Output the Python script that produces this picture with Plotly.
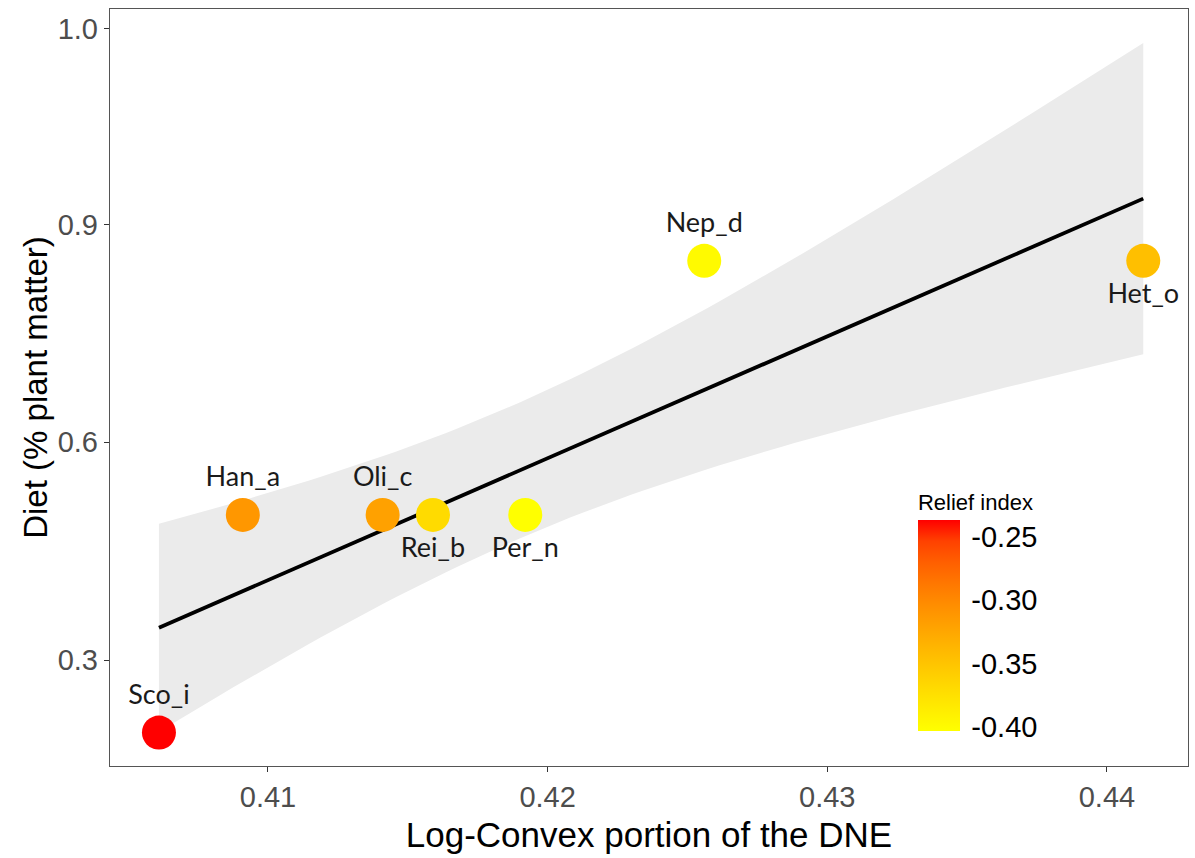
import numpy as np
import plotly.graph_objects as go

# Species data
species = ["Sco_i", "Han_a", "Oli_c", "Rei_b", "Per_n", "Nep_d", "Het_o"]
log_convex = [0.4061, 0.4091, 0.4141, 0.4159, 0.4192, 0.4256, 0.4413]
diet_plant = [0.20, 0.50, 0.50, 0.50, 0.50, 0.85, 0.85]
relief_index = [-0.237, -0.312, -0.320, -0.370, -0.403, -0.398, -0.345]
label_pos = ["top center", "top center", "top center", "bottom center",
             "bottom center", "top center", "bottom center"]

y_tickvals = [0.3, 0.6, 0.9, 1.17]
y_ticktext = ["0.3", "0.6", "0.9", "1.0"]
x_tickvals = [0.41, 0.42, 0.43, 0.44]
cbar_ticks = [-0.25, -0.30, -0.35, -0.40]
cbar_ticktext = ["-0.25", "-0.30", "-0.35", "-0.40"]

x = np.array(log_convex)
y = np.array(diet_plant)


# --- colour gradient yellow -> red interpolated in CIE Lab ---
def srgb_to_lab(rgb):
    c = np.array(rgb, dtype=float) / 255.0
    c = np.where(c > 0.04045, ((c + 0.055) / 1.055) ** 2.4, c / 12.92)
    m = np.array([[0.4124, 0.3576, 0.1805],
                  [0.2126, 0.7152, 0.0722],
                  [0.0193, 0.1192, 0.9505]])
    xyz = m @ c / np.array([0.95047, 1.0, 1.08883])
    f = np.where(xyz > 0.008856, np.cbrt(xyz), 7.787 * xyz + 16 / 116)
    return np.array([116 * f[1] - 16, 500 * (f[0] - f[1]), 200 * (f[1] - f[2])])


def lab_to_srgb(lab):
    L, a, b = lab
    fy = (L + 16) / 116
    fx = fy + a / 500
    fz = fy - b / 200
    f = np.array([fx, fy, fz])
    xyz = np.where(f ** 3 > 0.008856, f ** 3, (f - 16 / 116) / 7.787)
    xyz = xyz * np.array([0.95047, 1.0, 1.08883])
    m = np.array([[3.2406, -1.5372, -0.4986],
                  [-0.9689, 1.8758, 0.0415],
                  [0.0557, -0.2040, 1.0570]])
    c = np.clip(m @ xyz, 0, 1)
    c = np.where(c > 0.0031308, 1.055 * c ** (1 / 2.4) - 0.055, 12.92 * c)
    c = np.clip(np.round(c * 255), 0, 255).astype(int)
    return "rgb(%d,%d,%d)" % tuple(c)


lab_lo = srgb_to_lab([255, 255, 0])
lab_hi = srgb_to_lab([255, 0, 0])
colorscale = [[t, lab_to_srgb(lab_lo + t * (lab_hi - lab_lo))]
              for t in np.linspace(0, 1, 11)]

# --- linear fit with confidence band ---
n = len(x)
slope, intercept = np.polyfit(x, y, 1)
resid = y - (intercept + slope * x)
s = np.sqrt(np.sum(resid ** 2) / (n - 2))
xx = np.linspace(x.min(), x.max(), 80)
fit = intercept + slope * xx
se = s * np.sqrt(1 / n + (xx - x.mean()) ** 2 / np.sum((x - x.mean()) ** 2))
tcrit = 2.015
upper = fit + tcrit * se
lower = fit - tcrit * se

fig = go.Figure()

fig.add_trace(go.Scatter(
    x=np.concatenate([xx, xx[::-1]]),
    y=np.concatenate([upper, lower[::-1]]),
    fill="toself", fillcolor="#EBEBEB", line=dict(width=0),
    mode="lines", hoverinfo="skip", showlegend=False,
))
fig.add_trace(go.Scatter(
    x=xx, y=fit, mode="lines",
    line=dict(color="black", width=3.8),
    hoverinfo="skip", showlegend=False,
))
fig.add_trace(go.Scatter(
    x=log_convex, y=diet_plant, mode="markers+text",
    text=species, textposition=label_pos,
    textfont=dict(family="Lato, sans-serif", size=27, color="#1a1a1a"),
    marker=dict(
        size=34, color=relief_index, colorscale=colorscale,
        cmin=min(relief_index), cmax=max(relief_index),
        line=dict(width=0),
        colorbar=dict(
            title=dict(text="Relief index", side="top",
                       font=dict(family="Liberation Sans, Arial", size=22, color="black")),
            tickvals=cbar_ticks, ticktext=cbar_ticktext,
            tickfont=dict(family="Liberation Sans, Arial", size=29, color="black"),
            ticks="outside", ticklen=6, tickcolor="rgba(0,0,0,0)",
            thicknessmode="pixels", thickness=42,
            lenmode="pixels", len=241,
            x=0.7495, xanchor="left", xpad=0,
            y=0.0462, yanchor="bottom", ypad=0,
            outlinewidth=0, bgcolor="rgba(0,0,0,0)",
        ),
    ),
    showlegend=False,
))

axis_common = dict(
    showgrid=False, zeroline=False, showline=True, mirror=True,
    linecolor="#555555", linewidth=1.4,
    ticks="outside", ticklen=5, tickcolor="#333333", tickwidth=1.2,
    tickfont=dict(family="Liberation Sans, Arial", size=29, color="#4D4D4D"),
)

fig.update_layout(
    width=1195, height=858,
    margin=dict(l=110, r=7, t=9, b=92),
    paper_bgcolor="white", plot_bgcolor="white",
    xaxis=dict(
        range=[0.40435, 0.4429], tickvals=x_tickvals,
        title=dict(text="Log-Convex portion of the DNE", standoff=10,
                   font=dict(family="Liberation Sans, Arial", size=35, color="black")),
        **axis_common,
    ),
    yaxis=dict(
        range=[0.154, 1.197], tickvals=y_tickvals, ticktext=y_ticktext,
        title=dict(text="Diet (% plant matter)", standoff=0,
                   font=dict(family="Liberation Sans, Arial", size=33, color="black")),
        **axis_common,
    ),
)

fig.write_html("out.html")
